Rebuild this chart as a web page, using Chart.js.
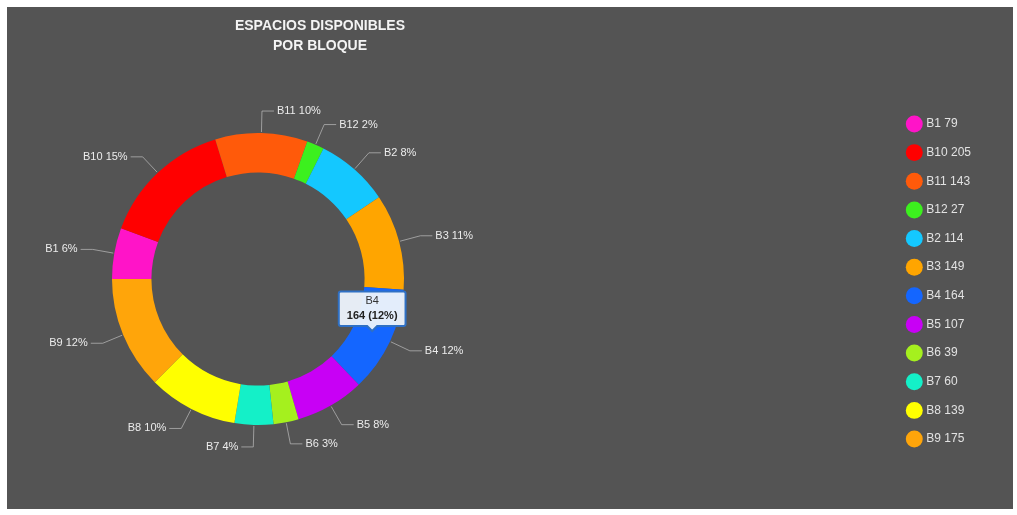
<!DOCTYPE html>
<html>
<head>
<meta charset="utf-8">
<script src="https://cdn.jsdelivr.net/npm/chart.js@4.4.1/dist/chart.umd.min.js"></script>
<style>
  html, body { margin: 0; padding: 0; background: #fff; }
  #panel { position: absolute; left: 7px; top: 7px; width: 1006px; height: 502px; background: #545454; }
  #title { position: absolute; left: 113px; top: 8px; width: 400px; text-align: center; color: #f4f4f4;
           font: bold 14px 'Liberation Sans', Arial, sans-serif; line-height: 20px; }
  #wrap { position: absolute; left: 0; top: 0; width: 1006px; height: 502px; }
</style>
</head>
<body>
<div id="panel">
  <div id="wrap"><canvas id="blockChart"></canvas></div>
  <div id="title">ESPACIOS DISPONIBLES<br>POR BLOQUE</div>
</div>
<script>
const blockLabels = ['B1', 'B10', 'B11', 'B12', 'B2', 'B3', 'B4', 'B5', 'B6', 'B7', 'B8', 'B9']
const freeSpaces = [79, 205, 143, 27, 114, 149, 164, 107, 39, 60, 139, 175]
const blockColors = ['#ff14c8', '#ff0000', '#ff5a0a', '#3cf01e', '#14c8ff', '#ffa500',
  '#1466ff', '#c800f5', '#a5f01e', '#14f0c8', '#ffff00', '#ffa50a']

const total = freeSpaces.reduce((a, b) => a + b, 0)
const pct = (v) => Math.round((v / total) * 100)

// keep the ring on the left, legend stays on the right edge
const donutArea = {
  id: 'donutArea',
  afterLayout(chart) {
    Object.assign(chart.chartArea, { left: 104, top: 126, right: 398, bottom: 418, width: 294, height: 292 })
  },
}

// outside labels with a bent connector
const sliceLabels = {
  id: 'sliceLabels',
  afterDatasetsDraw(chart) {
    const { ctx } = chart
    const meta = chart.getDatasetMeta(0)
    ctx.save()
    ctx.font = "11px 'Liberation Sans', Arial, sans-serif"
    ctx.textBaseline = 'middle'
    meta.data.forEach((arc, i) => {
      const { x, y, startAngle, endAngle, outerRadius } = arc
      const a = (startAngle + endAngle) / 2
      const cos = Math.cos(a)
      const sin = Math.sin(a)
      const dir = cos >= 0 ? 1 : -1
      const x0 = x + cos * (outerRadius + 1)
      const y0 = y + sin * (outerRadius + 1)
      const x1 = x + cos * (outerRadius + 22)
      const y1 = y + sin * (outerRadius + 22)
      const x2 = x1 + dir * 12
      ctx.strokeStyle = 'rgba(190,190,190,0.7)'
      ctx.lineWidth = 1
      ctx.beginPath()
      ctx.moveTo(x0, y0)
      ctx.lineTo(x1, y1)
      ctx.lineTo(x2, y1)
      ctx.stroke()
      ctx.fillStyle = '#ececec'
      ctx.textAlign = dir > 0 ? 'left' : 'right'
      ctx.fillText(`${blockLabels[i]} ${pct(freeSpaces[i])}%`, x2 + dir * 3, y1)
    })
    ctx.restore()
  },
}

Chart.defaults.font.family = "'Liberation Sans', Arial, sans-serif"

const chart = new Chart(document.getElementById('blockChart'), {
  type: 'doughnut',
  data: {
    labels: blockLabels,
    datasets: [
      {
        data: freeSpaces,
        backgroundColor: blockColors,
        hoverBackgroundColor: blockColors,
        borderWidth: 0,
        hoverBorderWidth: 0,
        hoverOffset: 0,
        offset: 0,
        clip: false,
      },
    ],
  },
  options: {
    responsive: true,
    maintainAspectRatio: false,
    animation: false,
    events: [],
    rotation: 270,
    cutout: '73%',
    layout: { padding: { top: 47, bottom: 0, right: 32, left: 0 } },
    plugins: {
      legend: {
        position: 'right',
        align: 'center',
        labels: {
          usePointStyle: true,
          padding: 16.64,
          font: { size: 12 },
          generateLabels(c) {
            const ds = c.data.datasets[0]
            return c.data.labels.map((label, i) => ({
              text: `${label} ${ds.data[i]}`,
              fillStyle: ds.backgroundColor[i],
              strokeStyle: ds.backgroundColor[i],
              lineWidth: 0,
              pointStyle: 'circle',
              fontColor: '#e2e2e2',
              hidden: false,
              index: i,
            }))
          },
        },
      },
      tooltip: {
        yAlign: 'bottom',
        xAlign: 'center',
        displayColors: false,
        backgroundColor: 'rgba(236,243,251,0.96)',
        borderColor: '#2f70c4',
        borderWidth: 2,
        cornerRadius: 2,
        caretSize: 5,
        caretPadding: 2,
        padding: { top: 3, bottom: 3, left: 8, right: 8 },
        titleAlign: 'center',
        bodyAlign: 'center',
        titleColor: '#333',
        bodyColor: '#222',
        titleFont: { size: 11, weight: 'normal' },
        bodyFont: { size: 11, weight: 'bold' },
        titleMarginBottom: 2,
        callbacks: {
          title(items) {
            return items[0].label
          },
          label(item) {
            return `${item.raw} (${pct(item.raw)}%)`
          },
        },
      },
    },
  },
  plugins: [donutArea, sliceLabels],
})

chart.tooltip.setActiveElements([{ datasetIndex: 0, index: 6 }], { x: 0, y: 0 })
chart.update()
</script>
</body>
</html>
